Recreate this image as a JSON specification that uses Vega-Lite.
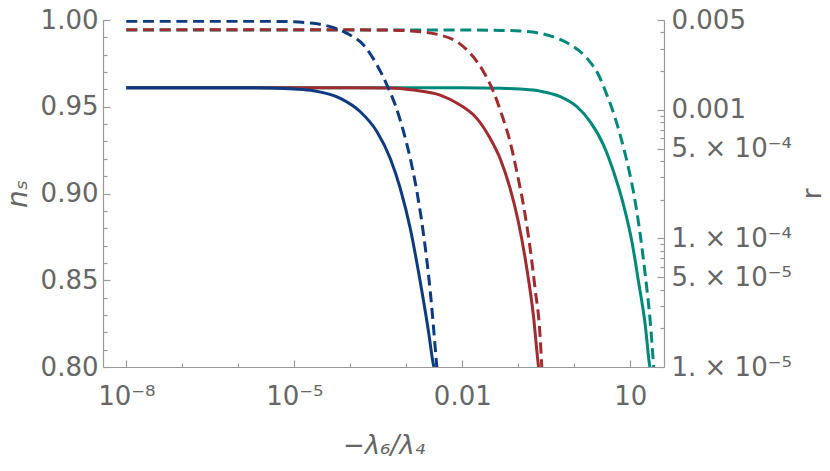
{
  "$schema": "https://vega.github.io/schema/vega-lite/v6.json",
  "width": 561,
  "height": 347,
  "autosize": {"type": "none"},
  "padding": {"left": 103, "top": 20, "right": 166, "bottom": 104},
  "background": "white",
  "config": {
    "view": {"stroke": null},
    "axis": {
      "domainColor": "#9a9a9a",
      "tickColor": "#9a9a9a",
      "domainWidth": 1.2,
      "tickWidth": 1.2,
      "labelColor": "#666666",
      "titleColor": "#666666",
      "labelFont": "DejaVu Sans",
      "labelFontSize": 26,
      "titleFont": "DejaVu Sans",
      "titleFontWeight": "normal",
      "titleFontSize": 26,
      "grid": false,
      "labelOverlap": false,
      "labelBound": false,
      "labelFlush": false,
      "tickSize": -7
    }
  },
  "encoding": {
    "x": {
      "field": "x",
      "type": "quantitative",
      "scale": {"type": "log", "domain": [3.84e-9, 40], "nice": false},
      "axis": {
        "orient": "bottom",
        "values": [1e-8, 1e-7, 1e-6, 1e-5, 1e-4, 1e-3, 0.01, 0.1, 1, 10],
        "labelExpr": "round(log(datum.value)/LN10) == -8 ? '10⁻⁸' : round(log(datum.value)/LN10) == -5 ? '10⁻⁵' : round(log(datum.value)/LN10) == -2 ? '0.01' : round(log(datum.value)/LN10) == 1 ? '10' : ''",
        "tickDash": {"condition": {"test": "indexof([-8, -5, -2, 1], round(log(datum.value)/LN10)) < 0", "value": [4, 30]}, "value": [20, 1]},
        "labelPadding": 23,
        "title": "−λ₆/λ₄",
        "titleFontStyle": "italic",
        "titleX": 280.5,
        "titleY": 86,
        "titleBaseline": "alphabetic",
        "titleAlign": "center"
      }
    },
    "color": {
      "field": "series",
      "type": "nominal",
      "scale": {"domain": ["A", "B", "C"], "range": ["#0e3a82", "#a22b2f", "#00897a"]},
      "legend": null
    }
  },
  "layer": [
    {
      "data": {
        "values": [
          {"series": "C", "x": 1e-8, "ns": 0.961},
          {"series": "C", "x": 0.01, "ns": 0.961},
          {"series": "C", "x": 0.0501, "ns": 0.9607},
          {"series": "C", "x": 0.1086, "ns": 0.9602},
          {"series": "C", "x": 0.2472, "ns": 0.959},
          {"series": "C", "x": 0.5623, "ns": 0.9558},
          {"series": "C", "x": 1.117, "ns": 0.95},
          {"series": "C", "x": 1.932, "ns": 0.9413},
          {"series": "C", "x": 3.334, "ns": 0.9279},
          {"series": "C", "x": 5.035, "ns": 0.9125},
          {"series": "C", "x": 7.586, "ns": 0.8933},
          {"series": "C", "x": 10.72, "ns": 0.8721},
          {"series": "C", "x": 14.06, "ns": 0.849},
          {"series": "C", "x": 18.54, "ns": 0.824},
          {"series": "C", "x": 22.13, "ns": 0.801},
          {"series": "C", "x": 22.39, "ns": 0.8},
          {"series": "B", "x": 1e-8, "ns": 0.961},
          {"series": "B", "x": 1e-4, "ns": 0.961},
          {"series": "B", "x": 5.012e-4, "ns": 0.9608},
          {"series": "B", "x": 1.334e-3, "ns": 0.9596},
          {"series": "B", "x": 4.027e-3, "ns": 0.9567},
          {"series": "B", "x": 9.162e-3, "ns": 0.951},
          {"series": "B", "x": 0.01816, "ns": 0.9433},
          {"series": "B", "x": 0.03141, "ns": 0.9318},
          {"series": "B", "x": 0.04732, "ns": 0.9202},
          {"series": "B", "x": 0.07145, "ns": 0.9029},
          {"series": "B", "x": 0.1005, "ns": 0.8836},
          {"series": "B", "x": 0.1419, "ns": 0.8568},
          {"series": "B", "x": 0.1862, "ns": 0.8298},
          {"series": "B", "x": 0.2286, "ns": 0.801},
          {"series": "B", "x": 0.2307, "ns": 0.8},
          {"series": "A", "x": 1e-8, "ns": 0.961},
          {"series": "A", "x": 1e-6, "ns": 0.961},
          {"series": "A", "x": 3.162e-6, "ns": 0.9608},
          {"series": "A", "x": 1e-5, "ns": 0.9602},
          {"series": "A", "x": 2.213e-5, "ns": 0.9592},
          {"series": "A", "x": 6.637e-5, "ns": 0.9548},
          {"series": "A", "x": 1.51e-4, "ns": 0.9471},
          {"series": "A", "x": 2.999e-4, "ns": 0.9356},
          {"series": "A", "x": 5.176e-4, "ns": 0.9202},
          {"series": "A", "x": 7.816e-4, "ns": 0.9029},
          {"series": "A", "x": 1.178e-3, "ns": 0.8798},
          {"series": "A", "x": 1.778e-3, "ns": 0.849},
          {"series": "A", "x": 2.5e-3, "ns": 0.8202},
          {"series": "A", "x": 3.069e-3, "ns": 0.801},
          {"series": "A", "x": 3.126e-3, "ns": 0.8}
        ]
      },
      "mark": {"type": "line", "strokeWidth": 3, "interpolate": "monotone", "clip": true},
      "encoding": {
        "y": {
          "field": "ns",
          "type": "quantitative",
          "scale": {"domain": [0.8, 1.0], "nice": false, "zero": false},
          "axis": {
            "orient": "left",
            "values": [0.8, 0.81, 0.82, 0.83, 0.84, 0.85, 0.86, 0.87, 0.88, 0.89, 0.9, 0.91, 0.92, 0.93, 0.94, 0.95, 0.96, 0.97, 0.98, 0.99, 1.0],
            "labelExpr": "round(datum.value*100) % 5 == 0 ? format(datum.value, '.2f') : ''",
            "tickDash": {"condition": {"test": "round(datum.value*100) % 5 != 0", "value": [4, 30]}, "value": [20, 1]},
            "labelPadding": 12,
            "title": "nₛ",
            "titleFontStyle": "italic",
            "titleFontSize": 28,
            "titleAngle": 270,
            "titleX": -85,
            "titleY": 173.5,
            "titleBaseline": "middle",
            "titleAlign": "center"
          }
        }
      }
    },
    {
      "data": {
        "values": [
          {"series": "C", "x": 1e-8, "r": 0.004188},
          {"series": "C", "x": 0.01, "r": 0.004178},
          {"series": "C", "x": 0.0501, "r": 0.00415},
          {"series": "C", "x": 0.1086, "r": 0.004102},
          {"series": "C", "x": 0.2472, "r": 0.003936},
          {"series": "C", "x": 0.4909, "r": 0.003606},
          {"series": "C", "x": 0.9727, "r": 0.003097},
          {"series": "C", "x": 1.687, "r": 0.002518},
          {"series": "C", "x": 2.716, "r": 0.001866},
          {"series": "C", "x": 3.837, "r": 0.001303},
          {"series": "C", "x": 5.395, "r": 0.000859},
          {"series": "C", "x": 7.112, "r": 0.0005649},
          {"series": "C", "x": 9.333, "r": 0.0003499},
          {"series": "C", "x": 12.27, "r": 0.0001923},
          {"series": "C", "x": 15.1, "r": 0.0001059},
          {"series": "C", "x": 18.54, "r": 0.00005176},
          {"series": "C", "x": 22.75, "r": 0.00002239},
          {"series": "C", "x": 26.18, "r": 0.00001},
          {"series": "B", "x": 1e-8, "r": 0.004207},
          {"series": "B", "x": 1e-4, "r": 0.004198},
          {"series": "B", "x": 5.012e-4, "r": 0.004169},
          {"series": "B", "x": 1.778e-3, "r": 0.004055},
          {"series": "B", "x": 4.027e-3, "r": 0.003819},
          {"series": "B", "x": 8.017e-3, "r": 0.003388},
          {"series": "B", "x": 0.01384, "r": 0.002754},
          {"series": "B", "x": 0.02393, "r": 0.001982},
          {"series": "B", "x": 0.03606, "r": 0.001384},
          {"series": "B", "x": 0.05093, "r": 0.000912},
          {"series": "B", "x": 0.07145, "r": 0.0005649},
          {"series": "B", "x": 0.09419, "r": 0.0003296},
          {"series": "B", "x": 0.1236, "r": 0.0001816},
          {"series": "B", "x": 0.1629, "r": 0.00008356},
          {"series": "B", "x": 0.1995, "r": 0.00004074},
          {"series": "B", "x": 0.2449, "r": 0.00001758},
          {"series": "B", "x": 0.263, "r": 0.00001},
          {"series": "A", "x": 1e-8, "r": 0.004887},
          {"series": "A", "x": 1e-6, "r": 0.004887},
          {"series": "A", "x": 5.623e-6, "r": 0.004875},
          {"series": "A", "x": 2.213e-5, "r": 0.00471},
          {"series": "A", "x": 4.395e-5, "r": 0.004436},
          {"series": "A", "x": 8.73e-5, "r": 0.003936},
          {"series": "A", "x": 1.73e-4, "r": 0.003192},
          {"series": "A", "x": 2.999e-4, "r": 0.002234},
          {"series": "A", "x": 4.519e-4, "r": 0.00156},
          {"series": "A", "x": 6.368e-4, "r": 0.001089},
          {"series": "A", "x": 8.954e-4, "r": 0.0006745},
          {"series": "A", "x": 1.178e-3, "r": 0.0004188},
          {"series": "A", "x": 1.552e-3, "r": 0.0002301},
          {"series": "A", "x": 2.042e-3, "r": 0.0001059},
          {"series": "A", "x": 2.685e-3, "r": 0.00003837},
          {"series": "A", "x": 3.296e-3, "r": 0.0000139},
          {"series": "A", "x": 3.508e-3, "r": 0.00001}
        ]
      },
      "mark": {"type": "line", "strokeWidth": 3, "strokeDash": [11, 5.7], "interpolate": "monotone", "clip": true},
      "encoding": {
        "y": {
          "field": "r",
          "type": "quantitative",
          "scale": {"type": "log", "domain": [0.00001, 0.005], "nice": false},
          "axis": {
            "orient": "right",
            "values": [0.00001, 0.00002, 0.00003, 0.00004, 0.00005, 0.00006, 0.00007, 0.00008, 0.00009, 0.0001, 0.0002, 0.0003, 0.0004, 0.0005, 0.0006, 0.0007, 0.0008, 0.0009, 0.001, 0.002, 0.003, 0.004, 0.005],
            "labelExpr": "(abs(datum.value/pow(10, floor(log(datum.value)/LN10 + 1e-6)) - 1) > 0.01 && abs(datum.value/pow(10, floor(log(datum.value)/LN10 + 1e-6)) - 5) > 0.01) ? '' : (datum.value > 0.0009 ? format(datum.value, '.3f') : (round(datum.value/pow(10, floor(log(datum.value)/LN10 + 1e-6))) + '. × 10' + (floor(log(datum.value)/LN10 + 1e-6) == -4 ? '⁻⁴' : '⁻⁵')))",
            "tickDash": {"condition": {"test": "abs(datum.value/pow(10, floor(log(datum.value)/LN10 + 1e-6)) - 1) > 0.01 && abs(datum.value/pow(10, floor(log(datum.value)/LN10 + 1e-6)) - 5) > 0.01", "value": [4, 30]}, "value": [20, 1]},
            "labelPadding": 14,
            "title": "r",
            "titleAngle": 270,
            "titleX": 148.5,
            "titleY": 173.5,
            "titleBaseline": "middle",
            "titleAlign": "center"
          }
        }
      }
    }
  ],
  "resolve": {"scale": {"y": "independent"}}
}
